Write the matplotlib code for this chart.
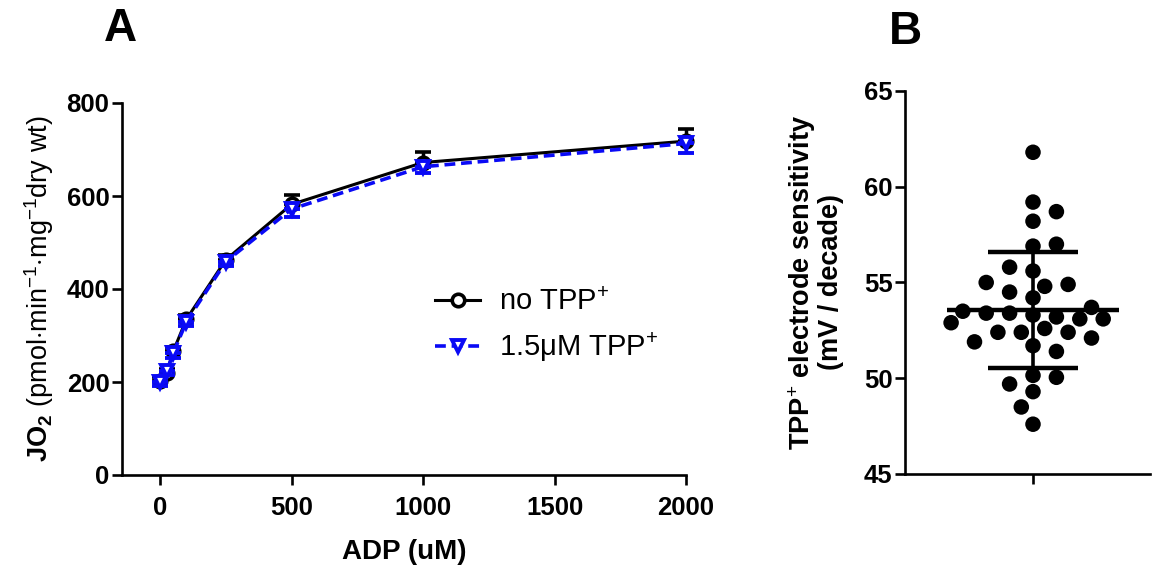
import numpy as np
import matplotlib
matplotlib.use("Agg")
import matplotlib.pyplot as plt

plt.rcParams['font.family'] = ['Liberation Sans', 'DejaVu Sans']
plt.rcParams['mathtext.fontset'] = 'custom'
plt.rcParams['mathtext.rm'] = 'Liberation Sans'
plt.rcParams['mathtext.it'] = 'Liberation Sans:italic'
plt.rcParams['mathtext.bf'] = 'Liberation Sans:bold'

# --- panel A data: ADP titration ---
adp = [0, 25, 50, 100, 250, 500, 1000, 2000]
jo2_ctrl = [203, 220, 266, 335, 463, 582, 672, 718]
sem_ctrl = [8, 8, 10, 10, 10, 20, 22, 26]
jo2_tpp = [199, 223, 262, 330, 459, 572, 663, 713]
sem_tpp = [8, 8, 10, 10, 10, 17, 14, 20]
labels_a = ['no TPP$^{+}$', '1.5\u03bcM TPP$^{+}$']
xticks_a = [0, 500, 1000, 1500, 2000]
yticks_a = [0, 200, 400, 600, 800]

# --- panel B data: electrode sensitivity ---
sens = [61.8, 59.2, 58.7, 58.2, 57.0, 56.9, 55.8, 55.6,
        55.0, 54.8, 54.9, 54.5, 54.2, 53.7, 53.3, 53.1, 53.4, 52.9,
        53.4, 52.6, 53.5, 53.1, 53.2, 52.4, 52.4, 52.4, 51.9, 52.1,
        51.7, 51.4, 50.15, 50.05, 49.7, 49.3, 48.5, 47.6]
yticks_b = [45, 50, 55, 60, 65]

fig = plt.figure(figsize=(11.56, 5.66), dpi=100)
W, H = 1156, 566

def box(l, t, r, b):
    return [l / W, 1 - b / H, (r - l) / W, (b - t) / H]

lw_sp = 1.9
axA = fig.add_axes(box(122, 103, 686, 475))
eb1 = axA.errorbar(adp, jo2_ctrl, yerr=[np.zeros(len(sem_ctrl)), sem_ctrl], color='black',
                   lw=2.2, marker='o', ms=9, mfc='white', mec='black', mew=2.6,
                   capsize=6, capthick=3, elinewidth=2.5, zorder=3)
eb2 = axA.errorbar(adp, jo2_tpp, yerr=[sem_tpp, np.zeros(len(sem_tpp))], color='#0a0af5',
                   lw=2.6, ls=(0, (3, 1.6)), marker='v', ms=9, mfc='white', mec='#0a0af5', mew=2.8,
                   capsize=6, capthick=3, elinewidth=2.5, zorder=4)
for eb in (eb1, eb2):
    for art in eb.get_children():
        art.set_clip_on(False)
axA.set_xlim(-145, 2000)
axA.set_ylim(0, 800)
axA.set_xticks(xticks_a)
axA.set_yticks(yticks_a)
axA.set_xlabel('ADP (uM)', fontsize=20, fontweight='bold', labelpad=14)
axA.set_ylabel(r'$\mathbf{JO_2}$ (pmol$\cdot$min$^{-1}$$\cdot$mg$^{-1}$dry wt)', fontsize=19.5, labelpad=8)
axA.legend(handles=[eb1.lines[0], eb2.lines[0]], labels=labels_a,
           loc='center left', bbox_to_anchor=(0.555, 0.40), frameon=False, fontsize=21,
           handlelength=1.55, handletextpad=0.65, labelspacing=0.5, borderpad=0, borderaxespad=0)

axB = fig.add_axes(box(905, 91, 1150, 474))
vals = np.array(sens)
ppu = 383 / 20.0   # pixels per mV/decade unit
step = 11.7
mind = 16.0
xs = np.zeros(len(vals))
placed = []
for i in np.argsort(np.abs(vals - np.median(vals))):
    y = vals[i] * ppu
    k = 0
    found = None
    while found is None:
        cands = [0.0] if k == 0 else [k * step, -k * step]
        if k > 0 and sum(1 for p in placed if p[0] > 0) > sum(1 for p in placed if p[0] < 0):
            cands = cands[::-1]
        for c in cands:
            if all((c - px) ** 2 + (y - py) ** 2 >= mind ** 2 for px, py in placed):
                found = c
                break
        k += 1
    xs[i] = found
    placed.append((found, y))

axB.scatter(xs, vals, s=125, color='black', edgecolors='none', zorder=3)
m = vals.mean()
sd = vals.std(ddof=1)
axB.plot([-86, 86], [m, m], color='black', lw=3.2, solid_capstyle='butt', zorder=4)
axB.plot([0, 0], [m - sd, m + sd], color='black', lw=2.6, zorder=4)
axB.plot([-45, 45], [m + sd, m + sd], color='black', lw=3.2, solid_capstyle='butt', zorder=4)
axB.plot([-45, 45], [m - sd, m - sd], color='black', lw=3.2, solid_capstyle='butt', zorder=4)
axB.set_xlim(-128, 117)
axB.set_ylim(45, 65)
axB.set_yticks(yticks_b)
axB.set_xticks([0])
axB.set_xticklabels([''])
axB.set_ylabel('TPP$^{+}$ electrode sensitivity\n(mV / decade)', fontsize=19.5,
               fontweight='bold', labelpad=14, linespacing=1.0)

for ax in (axA, axB):
    for s in ('top', 'right'):
        ax.spines[s].set_visible(False)
    for s in ('left', 'bottom'):
        ax.spines[s].set_linewidth(lw_sp)
    ax.tick_params(width=lw_sp, length=7, labelsize=18.5, pad=2)
    ax.tick_params(axis='x', pad=8)
    for t in ax.get_xticklabels() + ax.get_yticklabels():
        t.set_fontweight('bold')

fig.text(120 / W, 1 - 29 / H, 'A', fontsize=33, fontweight='bold', ha='center', va='center')
fig.text(905 / W, 1 - 32 / H, 'B', fontsize=33, fontweight='bold', ha='center', va='center')

fig.savefig('out.png', dpi=100)
